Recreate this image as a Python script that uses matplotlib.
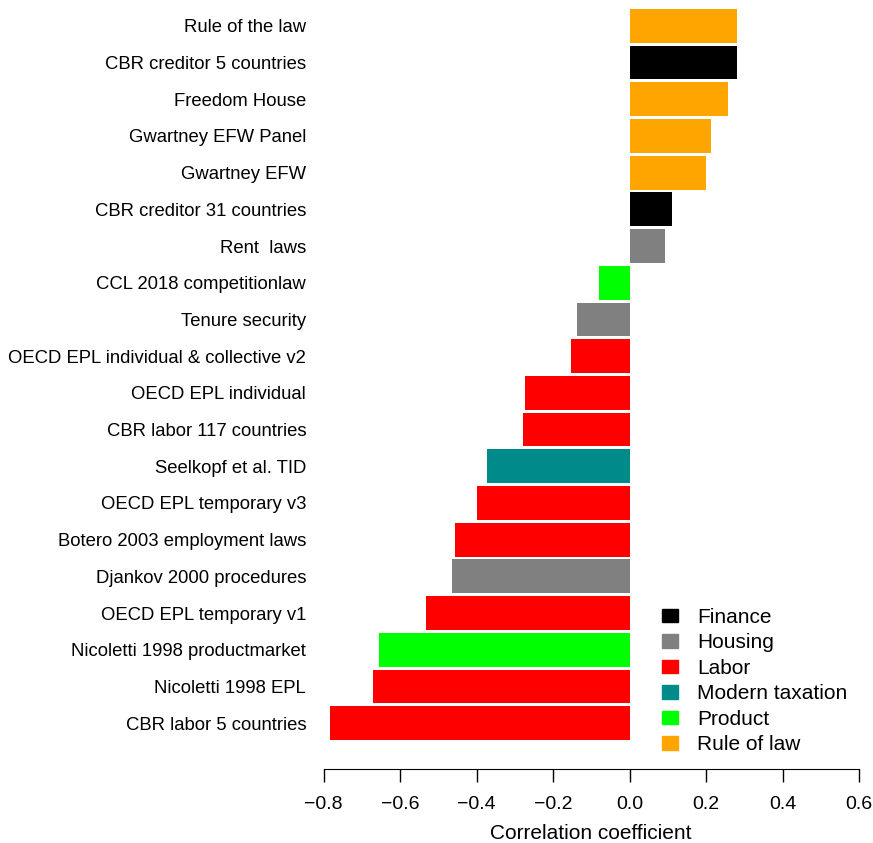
import matplotlib
matplotlib.use('Agg')
import matplotlib.pyplot as plt
from matplotlib.patches import Patch

plt.rcParams['font.family'] = ['Liberation Sans', 'DejaVu Sans']

# top to bottom
labels = ['Rule of the law', 'CBR creditor 5 countries', 'Freedom House',
          'Gwartney EFW Panel', 'Gwartney EFW', 'CBR creditor 31 countries',
          'Rent  laws', 'CCL 2018 competitionlaw', 'Tenure security',
          'OECD EPL individual & collective v2', 'OECD EPL individual',
          'CBR labor 117 countries', 'Seelkopf et al. TID',
          'OECD EPL temporary v3', 'Botero 2003 employment laws',
          'Djankov 2000 procedures', 'OECD EPL temporary v1',
          'Nicoletti 1998 productmarket', 'Nicoletti 1998 EPL',
          'CBR labor 5 countries']
values = [0.281, 0.281, 0.258, 0.213, 0.200, 0.111, 0.093, -0.080, -0.137,
          -0.153, -0.273, -0.278, -0.373, -0.399, -0.456, -0.464, -0.532,
          -0.655, -0.671, -0.783]
groups = ['Rule of law', 'Finance', 'Rule of law', 'Rule of law', 'Rule of law',
          'Finance', 'Housing', 'Product', 'Housing', 'Labor', 'Labor', 'Labor',
          'Modern taxation', 'Labor', 'Labor', 'Housing', 'Labor', 'Product',
          'Labor', 'Labor']

group_names = ['Finance', 'Housing', 'Labor', 'Modern taxation', 'Product', 'Rule of law']
group_colors = ['#000000', '#808080', '#FF0000', '#008B8B', '#00FF00', '#FFA500']
cmap = dict(zip(group_names, group_colors))

W, H = 873, 843
fig = plt.figure(figsize=(W / 100, H / 100), dpi=100)
x0, x1 = 323.5, 859
y_top, y_bot = 9, 740
ax = fig.add_axes([x0 / W, 1 - y_bot / H, (x1 - x0) / W, (y_bot - y_top) / H])

n = len(labels)
ypos = list(range(n - 1, -1, -1))
bh = 0.92
ax.barh(ypos, values, height=bh, color=[cmap[g] for g in groups])

ax.set_xlim(-0.8, 0.6)
ax.set_ylim(-bh / 2, n - 1 + bh / 2)
ax.set_yticks(ypos)
ax.set_yticklabels(labels, fontsize=13.3)
ax.tick_params(axis='y', length=0, pad=12.5)

ax.set_xticks([-0.8, -0.6, -0.4, -0.2, 0.0, 0.2, 0.4, 0.6])
ax.set_xticklabels(['\u22120.8', '\u22120.6', '\u22120.4', '\u22120.2', '0.0', '0.2', '0.4', '0.6'])
ax.tick_params(axis='x', labelsize=14, length=9.5, width=1, pad=10)
ax.set_xlabel('Correlation coefficient', fontsize=15, labelpad=8)

for s in ['top', 'right', 'left']:
    ax.spines[s].set_visible(False)
ax.spines['bottom'].set_position(('outward', 21))
ax.spines['bottom'].set_bounds(-0.8, 0.6)

handles = [Patch(color=c) for c in group_colors]
fig.legend(handles, group_names, loc='upper left',
           bbox_to_anchor=(662 / W, 1 - 608 / H), bbox_transform=fig.transFigure,
           frameon=False, fontsize=15, handlelength=0.77, handleheight=0.62,
           handletextpad=0.9, labelspacing=0.31, borderpad=0, borderaxespad=0)

fig.savefig('out.png', dpi=100)
